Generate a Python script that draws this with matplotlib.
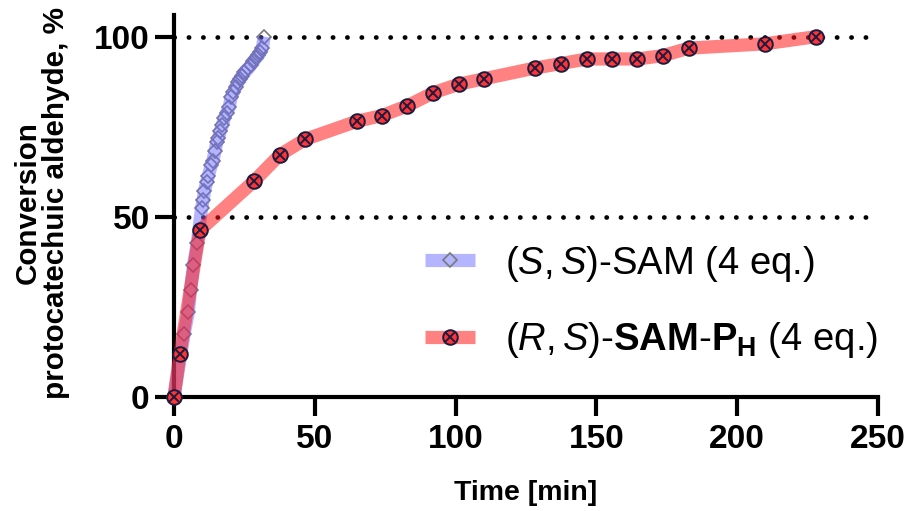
import matplotlib
matplotlib.use("Agg")
import matplotlib.pyplot as plt
from matplotlib.legend_handler import HandlerTuple

plt.rcParams['font.family'] = ['Liberation Sans', 'DejaVu Sans']
plt.rcParams['mathtext.fontset'] = 'custom'
plt.rcParams['mathtext.rm'] = 'Liberation Sans'
plt.rcParams['mathtext.it'] = 'Liberation Sans:italic'
plt.rcParams['mathtext.bf'] = 'Liberation Sans:bold'

# (S,S)-SAM (4 eq.)
ss_time = [0, 3.6, 5.1, 5.9, 6.9, 8.3, 9.8, 10.4, 10.8, 11.6, 12.2, 13.2, 13.8, 14.6,
           15.2, 15.8, 16.4, 17.2, 17.9, 18.7, 19.6, 20.3, 21.1, 21.9, 22.6, 23.5,
           24.3, 25.0, 26.4, 27.4, 28.2, 29.0, 30.0, 30.7, 31.4, 32.0]
ss_conv = [0, 17.5, 23.6, 29.8, 36.6, 42.8, 52.4, 54.8, 57.1, 59.6, 61.3, 64.3, 65.4, 68.4,
           70.7, 71.8, 73.7, 75.5, 77.4, 78.9, 80.4, 83.2, 84.6, 86.0, 87.3, 88.3,
           89.2, 90.1, 91.2, 92.2, 93.1, 94.0, 94.9, 95.8, 96.8, 100.0]

# (R,S)-SAM-PH (4 eq.)
rs_time = [0, 2.1, 9.2, 28.4, 37.6, 46.6, 64.9, 73.9, 82.9, 92.0, 101.1, 110.1,
           128.3, 137.3, 146.6, 155.5, 164.5, 173.5, 182.8, 209.8, 228.0]
rs_conv = [0, 11.9, 46.3, 59.9, 67.2, 71.5, 76.5, 78.1, 80.8, 84.4, 86.8, 88.3,
           91.3, 92.5, 93.8, 93.8, 93.8, 94.7, 96.8, 98.0, 100.0]

x_ticks = [0, 50, 100, 150, 200, 250]
y_ticks = [0, 50, 100]
ref_lines = [50, 100]

label_ss = r'$\mathit{(S,S)}$-SAM (4 eq.)'
label_rs = r'$\mathit{(R,S)}$-$\mathbf{SAM}$-$\mathbf{P_H}$ (4 eq.)'

fig = plt.figure(figsize=(9.07, 5.11), dpi=100)
ax = fig.add_axes([174/907, 1-397/511, 704/907, 382/511])

for yv in ref_lines:
    ax.axhline(yv, color='black', lw=3.4, linestyle=(0, (0.05, 3.0)),
               dash_capstyle='round', zorder=1)

# blue series
blue_mk, = ax.plot(ss_time, ss_conv, linestyle='none', marker='D', ms=6.8,
                   mfc='none', mec='#7a7a7a', mew=1.2, zorder=2, clip_on=False)
blue_band, = ax.plot(ss_time, ss_conv, color='#6a6aff', alpha=0.5, lw=9.5,
                     solid_capstyle='butt', zorder=3, clip_on=False)

# red series
red_band, = ax.plot(rs_time, rs_conv, color='#ff1a1a', alpha=0.55, lw=9.5,
                    solid_capstyle='butt', zorder=4, clip_on=False)
red_o, = ax.plot(rs_time, rs_conv, linestyle='none', marker='o', ms=10.5,
                 mfc='#ff3535', mec='#1c1c40', mew=1.4, zorder=5, clip_on=False)
red_x, = ax.plot(rs_time, rs_conv, linestyle='none', marker='x', ms=6.5,
                 mec='#1c1c40', mew=1.4, zorder=6, clip_on=False)

ax.set_xlim(0, 250)
ax.set_ylim(0, 106)
ax.set_xticks(x_ticks)
ax.set_yticks(y_ticks)
ax.spines['top'].set_visible(False)
ax.spines['right'].set_visible(False)
for s in ['left', 'bottom']:
    ax.spines[s].set_linewidth(3)
ax.tick_params(axis='both', length=13.5, width=3, direction='out',
               labelsize=24)
ax.tick_params(axis='x', pad=6)
ax.tick_params(axis='y', pad=4)
for lab in ax.get_xticklabels() + ax.get_yticklabels():
    lab.set_fontweight('bold')

fig.text(526/907, 1-493/511, 'Time [min]', ha='center', va='center',
         fontsize=20.5, fontweight='bold')
fig.text(42/907, 1-203/511, 'Conversion\nprotocatechuic aldehyde, %',
         ha='center', va='center', rotation=90, multialignment='center',
         fontsize=21.3, fontweight='bold', linespacing=1.0)

leg = ax.legend([(blue_band, blue_mk), (red_band, red_o, red_x)],
                [label_ss, label_rs],
                handler_map={tuple: HandlerTuple(ndivide=1)},
                loc='center left', bbox_to_anchor=((425-174)/704, (397-302)/382),
                frameon=False, fontsize=27.5, handlelength=1.3, handletextpad=0.8,
                labelspacing=0.95, borderpad=0, borderaxespad=0)

fig.savefig('out.png', dpi=100)
